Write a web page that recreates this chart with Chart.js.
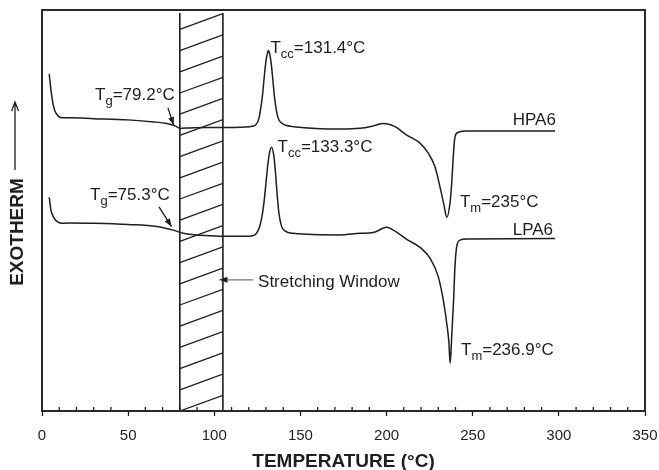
<!DOCTYPE html>
<html>
<head>
<meta charset="utf-8">
<script src="https://cdn.jsdelivr.net/npm/chart.js@4/dist/chart.umd.min.js"></script>
<style>
  html, body { margin: 0; padding: 0; background: #fff; }
</style>
</head>
<body>
<canvas id="dsc" width="659" height="470"></canvas>
<script>
// DSC heating scans of the two PA6 films, temperature (°C) vs heat flow (arb. units, exotherm up)
const hpa6Temp = [4.2, 5.2, 6.4, 7.5, 9.3, 11.6, 15.1, 30, 50, 65, 72.4, 77.2, 80.1, 85.9, 103.3, 120.7,
  122, 124, 126, 127, 128, 129, 130, 131, 131.4, 132, 133, 134, 135, 136, 137, 139, 142, 146,
  173, 184.6, 192.3, 198.1, 204.9, 211.7, 219.4, 224.2, 228.1, 231, 233.3, 235, 236.8, 237.8,
  238.7, 239.7, 241.6, 246.5, 297.8];
const hpa6Flow = [84.0, 80.0, 76.6, 74.8, 73.6, 73.1, 73.1, 72.9, 72.6, 72.1, 71.7, 71.1, 70.5, 70.6, 70.7, 70.9,
  71.0, 71.3, 73.1, 75.6, 78.8, 83.3, 87.3, 89.5, 89.9, 89.3, 86.8, 82.5, 78.1, 75.1, 73.1, 71.8, 71.2, 70.9,
  70.3, 70.5, 71.1, 71.7, 70.9, 68.8, 66.8, 64.3, 60.9, 55.9, 51.4, 48.3, 51.8, 56.8,
  63.4, 68.4, 69.5, 69.8, 69.8];

const lpa6Temp = [4.2, 5.2, 6.4, 7.5, 9.3, 11.6, 15.1, 30, 50, 66.6, 76.2, 82, 91.7, 103.3, 120.7,
  122, 124, 126, 127.5, 129, 130, 131, 132, 133.3, 134.5, 135.5, 136.5, 137.5, 139, 141, 146,
  173, 184.6, 192.3, 200.1, 203.9, 211.7, 219.4, 225.2, 230, 232.9, 235.2, 236.2, 236.9, 237.9,
  238.9, 239.7, 240.7, 242.6, 246.5, 297.8];
const lpa6Flow = [53.3, 50.1, 48.6, 47.8, 47.1, 46.8, 46.9, 46.8, 46.5, 46.0, 45.1, 44.3, 43.8, 43.6, 43.6,
  43.7, 44.1, 45.6, 48.1, 52.6, 56.9, 61.1, 64.3, 65.8, 63.8, 59.6, 53.9, 49.4, 46.1, 44.9, 44.3,
  43.9, 44.3, 44.5, 45.8, 45.1, 42.8, 40.8, 38.1, 33.5, 27.7, 21.0, 17.0, 11.9, 19.4,
  27.7, 36.0, 41.0, 42.6, 42.9, 43.0];

const xTickValues = [0, 50, 100, 150, 200, 250, 300, 350];
const stretchWindow = [80, 105];

const ink = '#1e1e1e';
const fontFam = '"Liberation Sans", Arial, Helvetica, sans-serif';

function pts(xs, ys) {
  return xs.map((t, i) => ({ x: t, y: ys[i] }));
}

// text labels: anchor is left edge / baseline in data units
const notes = [
  { at: [132.6, 89.3], main: 'T', sub: 'cc', rest: '=131.4°C' },
  { at: [30.8, 77.6], main: 'T', sub: 'g', rest: '=79.2°C' },
  { at: [136.7, 64.7], main: 'T', sub: 'cc', rest: '=133.3°C' },
  { at: [27.9, 52.6], main: 'T', sub: 'g', rest: '=75.3°C' },
  { at: [273.2, 71.3], main: 'HPA6' },
  { at: [273.2, 43.9], main: 'LPA6' },
  { at: [242.6, 50.9], main: 'T', sub: 'm', rest: '=235°C' },
  { at: [243.2, 14.0], main: 'T', sub: 'm', rest: '=236.9°C' },
  { at: [125.4, 31.0], main: 'Stretching Window' }
];
const arrows = [
  { from: [73.1, 75.6], to: [76.4, 71.3], color: ink },
  { from: [67.9, 50.9], to: [75.2, 46.0], color: ink },
  { from: [122.6, 32.7], to: [103.0, 32.7], color: '#777' }
];

function arrowHead(ctx, x1, y1, x2, y2, len, half) {
  const a = Math.atan2(y2 - y1, x2 - x1);
  ctx.beginPath();
  ctx.moveTo(x2, y2);
  ctx.lineTo(x2 - len * Math.cos(a) + half * Math.sin(a), y2 - len * Math.sin(a) - half * Math.cos(a));
  ctx.lineTo(x2 - len * Math.cos(a) - half * Math.sin(a), y2 - len * Math.sin(a) + half * Math.cos(a));
  ctx.closePath();
  ctx.fill();
}

const decor = {
  id: 'decor',
  beforeDatasetsDraw(chart) {
    const { ctx, chartArea: a, scales: { x } } = chart;
    ctx.save();
    // stretching window with hatching
    const xl = x.getPixelForValue(stretchWindow[0]);
    const xr = x.getPixelForValue(stretchWindow[1]);
    const wTop = a.top + 3;
    ctx.strokeStyle = ink;
    ctx.lineWidth = 1.3;
    ctx.save();
    ctx.beginPath();
    ctx.rect(xl, wTop, xr - xl, a.bottom - wTop);
    ctx.clip();
    ctx.beginPath();
    for (let yl = a.bottom; yl > wTop - 40; yl -= 21.2) {
      ctx.moveTo(xl, yl);
      ctx.lineTo(xr, yl - (xr - xl) * 0.366);
    }
    ctx.stroke();
    ctx.restore();
    ctx.lineWidth = 1.6;
    ctx.beginPath();
    ctx.moveTo(xl, wTop); ctx.lineTo(xl, a.bottom);
    ctx.moveTo(xr, wTop); ctx.lineTo(xr, a.bottom);
    ctx.stroke();

    // minor ticks pointing inward
    ctx.lineWidth = 1.3;
    ctx.beginPath();
    for (let v = 10; v < 350; v += 10) {
      if (v % 50 === 0) continue;
      const px = x.getPixelForValue(v);
      ctx.moveTo(px, a.bottom);
      ctx.lineTo(px, a.bottom - 4);
    }
    ctx.stroke();

    // frame
    ctx.lineWidth = 2;
    ctx.strokeStyle = '#2a2a2a';
    ctx.strokeRect(a.left, a.top, a.right - a.left, a.bottom - a.top);
    ctx.restore();
  },
  afterDatasetsDraw(chart) {
    const { ctx, scales: { x, y } } = chart;
    ctx.save();
    ctx.fillStyle = ink;
    ctx.textBaseline = 'alphabetic';
    ctx.textAlign = 'left';
    notes.forEach(n => {
      let px = x.getPixelForValue(n.at[0]);
      const py = y.getPixelForValue(n.at[1]);
      ctx.font = '17px ' + fontFam;
      ctx.fillText(n.main, px, py);
      px += ctx.measureText(n.main).width;
      if (n.sub) {
        ctx.font = '13px ' + fontFam;
        ctx.fillText(n.sub, px, py + 5);
        px += ctx.measureText(n.sub).width;
        ctx.font = '17px ' + fontFam;
        ctx.fillText(n.rest, px, py);
      }
    });
    arrows.forEach(ar => {
      const x1 = x.getPixelForValue(ar.from[0]), y1 = y.getPixelForValue(ar.from[1]);
      const x2 = x.getPixelForValue(ar.to[0]), y2 = y.getPixelForValue(ar.to[1]);
      ctx.strokeStyle = ar.color;
      ctx.lineWidth = 1.3;
      ctx.beginPath();
      ctx.moveTo(x1, y1);
      ctx.lineTo(x2, y2);
      ctx.stroke();
      ctx.fillStyle = ink;
      arrowHead(ctx, x1, y1, x2, y2, 8, 3);
    });

    // vertical axis caption with arrow
    ctx.fillStyle = ink;
    ctx.font = 'bold 19px ' + fontFam;
    ctx.translate(17, 232);
    ctx.rotate(-Math.PI / 2);
    ctx.textAlign = 'center';
    ctx.textBaseline = 'middle';
    ctx.fillText('EXOTHERM', 0, 1);
    ctx.setTransform(1, 0, 0, 1, 0, 0);
    ctx.strokeStyle = ink;
    ctx.lineWidth = 1.3;
    ctx.beginPath();
    ctx.moveTo(15, 170); ctx.lineTo(15, 102);
    ctx.moveTo(11.5, 111); ctx.lineTo(15, 102); ctx.lineTo(18.5, 111);
    ctx.stroke();
    ctx.restore();
  }
};

const lineStyle = {
  borderColor: ink,
  borderWidth: 1.5,
  pointRadius: 0,
  fill: false,
  cubicInterpolationMode: 'monotone'
};

new Chart(document.getElementById('dsc'), {
  type: 'line',
  data: {
    datasets: [
      Object.assign({ label: 'HPA6', data: pts(hpa6Temp, hpa6Flow) }, lineStyle),
      Object.assign({ label: 'LPA6', data: pts(lpa6Temp, lpa6Flow) }, lineStyle)
    ]
  },
  options: {
    responsive: false,
    animation: false,
    devicePixelRatio: 1,
    layout: { padding: { left: 42, right: 14, top: 10, bottom: 0 } },
    plugins: { legend: { display: false }, tooltip: { enabled: false } },
    scales: {
      x: {
        type: 'linear',
        min: 0,
        max: 350,
        afterFit: s => {
          s.height = 59;
          // end labels may hang past the plot edges
          s.paddingLeft = 0;
          s.paddingRight = 0;
        },
        afterBuildTicks: s => { s.ticks = xTickValues.map(v => ({ value: v })); },
        ticks: { font: { family: fontFam, size: 15 }, color: ink, padding: 11, maxRotation: 0 },
        grid: { drawOnChartArea: false, tickLength: 5, tickColor: ink, tickWidth: 1.3 },
        border: { color: ink, width: 2 },
        title: {
          display: true,
          text: 'TEMPERATURE (°C)',
          color: ink,
          font: { family: fontFam, size: 19, weight: 'bold', lineHeight: 1 },
          padding: { top: 0, bottom: -1 }
        }
      },
      y: { type: 'linear', min: 0, max: 100, display: false }
    }
  },
  plugins: [decor]
});
</script>
</body>
</html>
